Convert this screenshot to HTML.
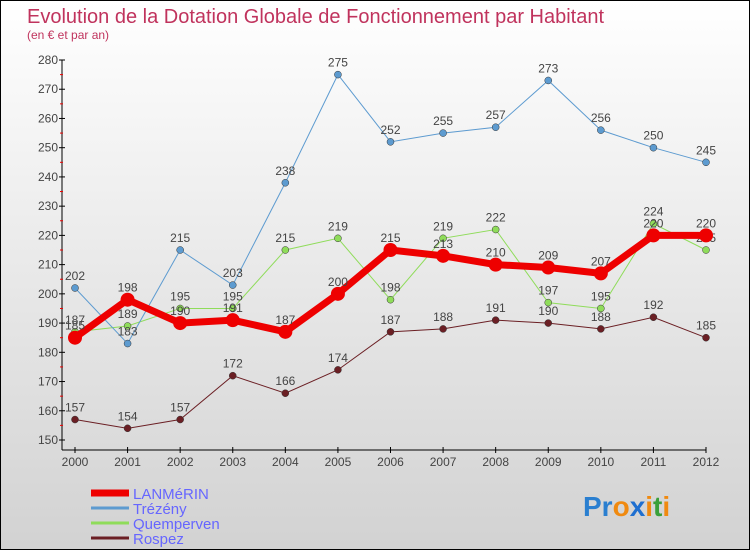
<!DOCTYPE html>
<html><head><meta charset="utf-8"><style>
html,body{margin:0;padding:0}
body{width:750px;height:550px;overflow:hidden;font-family:"Liberation Sans","DejaVu Sans",sans-serif}
#wrap{position:relative;width:748px;height:548px;border:1px solid #000;background:linear-gradient(#ffffff,#d2d2d2)}
</style></head><body>
<div id="wrap">
<svg id="chart" width="748" height="548" style="position:absolute;left:0;top:0">
<text x="26" y="22" font-size="20" fill="#c0335d">Evolution de la Dotation Globale de Fonctionnement par Habitant</text>
<text x="26" y="38" font-size="12" fill="#c0335d">(en € et par an)</text>
<g id="axes"></g><g id="series"></g><g id="legend"></g>
<text x="582" y="515" font-size="28" font-weight="bold"><tspan fill="#2a7fd0">Pr</tspan><tspan fill="#f08a10">o</tspan><tspan fill="#1f6fd0">x</tspan><tspan fill="#f08a10">i</tspan><tspan fill="#3aa03a">t</tspan><tspan fill="#f08a10">i</tspan></text>
</svg>
</div>
<script>
const years=[2000,2001,2002,2003,2004,2005,2006,2007,2008,2009,2010,2011,2012];
const yTicks=[150,160,170,180,190,200,210,220,230,240,250,260,270,280];
const lanmerin=[185,198,190,191,187,200,215,213,210,209,207,220,220];
const trezeny=[202,183,215,203,238,275,252,255,257,273,256,250,245];
const quemperven=[187,189,195,195,215,219,198,219,222,197,195,224,215];
const rospez=[157,154,157,172,166,174,187,188,191,190,188,192,185];
const NS='http://www.w3.org/2000/svg';
const x=i=>74+i*(705-74)/(years.length-1);
const y=v=>439-(v-150)*(380/130);
function mk(t,a,p){const e=document.createElementNS(NS,t);for(const k in a)e.setAttribute(k,a[k]);p.appendChild(e);return e;}
const ax=document.getElementById('axes');
let l=mk('line',{x1:61,y1:59,x2:61,y2:449,stroke:'#000'},ax);


l=mk('line',{x1:61,y1:449,x2:705,y2:449,stroke:'#000'},ax);


yTicks.forEach((v,i)=>{mk('line',{x1:58,y1:y(v),x2:64,y2:y(v),stroke:'#000'},ax);
 if(i<yTicks.length-1)mk('line',{x1:59,y1:y(v+5),x2:62,y2:y(v+5),stroke:'#e00'},ax);
 const t=mk('text',{x:57,y:y(v)+4,'text-anchor':'end','font-size':12,fill:'#444'},ax);t.textContent=v;
 
 });
years.forEach((yr,i)=>{mk('line',{x1:x(i),y1:446,x2:x(i),y2:452,stroke:'#000'},ax);
 const t=mk('text',{x:x(i),y:465,'text-anchor':'middle','font-size':12,fill:'#444'},ax);t.textContent=yr;
 
 });
const S=[{n:'Rospez',d:rospez,c:'#6b1f24',w:1,r:3.5},{n:'Quemperven',d:quemperven,c:'#8fdc5a',w:1,r:3.5},{n:'Trézény',d:trezeny,c:'#5d9bd0',w:1,r:3.5},{n:'LANMéRIN',d:lanmerin,c:'#ee0000',w:7,r:7}];
const sg=document.getElementById('series');
S.forEach(s=>{const g=mk('g',{},sg);
 
 
 const p=mk('polyline',{points:s.d.map((v,i)=>x(i)+','+y(v)).join(' '),fill:'none',stroke:s.c,'stroke-width':s.w},g);
 
 
 s.d.forEach((v,i)=>{const c=mk('circle',{cx:x(i),cy:y(v),r:s.r,fill:s.c,stroke:s.w>1?s.c:'#333','stroke-width':s.w>1?0:0.5},g);
  
  
  const t=mk('text',{x:x(i),y:y(v)-8,'text-anchor':'middle','font-size':12,fill:'#444'},g);t.textContent=v;
  
  });});
const lg=document.getElementById('legend');
[S[3],S[2],S[1],S[0]].forEach((s,i)=>{const yy=492+i*15;
 const g=mk('g',{},lg);
 
 
 mk('line',{x1:90,y1:yy,x2:128,y2:yy,stroke:s.c,'stroke-width':s.w>1?7:3},g);
 const t=mk('text',{x:132,y:yy+6,'font-size':15,fill:'#6666ff'},g);t.textContent=s.n;});
</script>
</body></html>
